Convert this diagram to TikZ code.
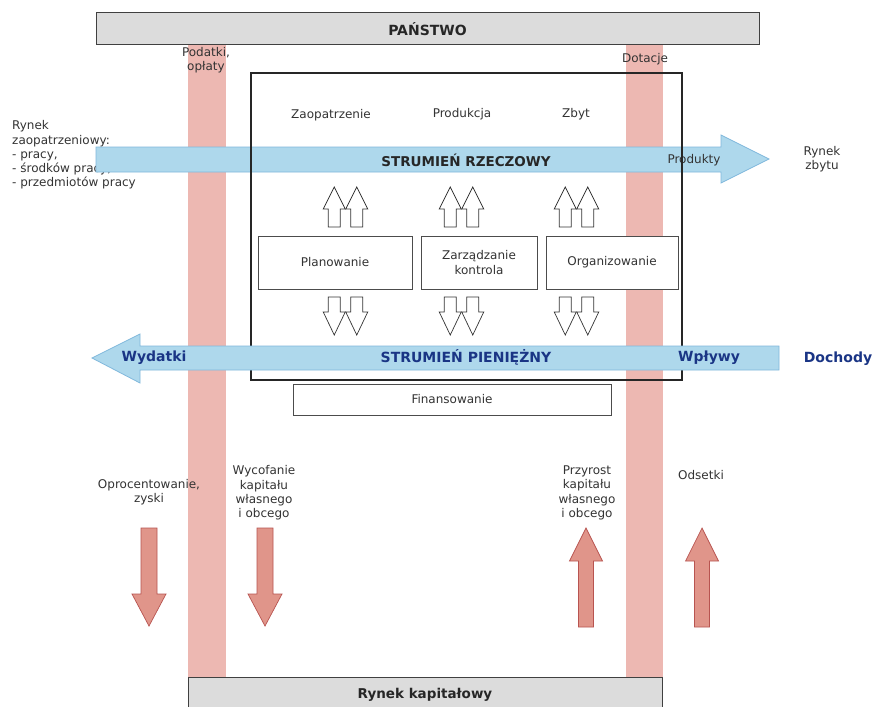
\documentclass[tikz,border=0pt]{standalone}
\usepackage{fontspec}
\setmainfont{DejaVu Sans}
\definecolor{stripred}{HTML}{EDB8B2}
\definecolor{flowblue}{HTML}{AED8EC}
\definecolor{flowedge}{HTML}{80B8DC}
\definecolor{navy}{HTML}{1A3585}
\definecolor{boxgray}{HTML}{DCDCDC}
\definecolor{txt}{HTML}{333333}
\definecolor{redfill}{HTML}{E0958A}
\definecolor{rededge}{HTML}{B85450}
\begin{document}
\begin{tikzpicture}[x=1pt,y=-1pt,
  lbl/.style={text=txt, font=\fontsize{12}{14.3}\selectfont, align=center, inner sep=0},
  title/.style={font=\bfseries\fontsize{14}{16}\selectfont, text=black!85, inner sep=0},
  navylbl/.style={font=\bfseries\fontsize{14}{16}\selectfont, text=navy, inner sep=0},
  panel/.style={draw=black!70, line width=0.8pt, fill=white, inner sep=0},
  govbox/.style={draw=black!75, fill=boxgray, line width=0.9pt, inner sep=0},
  flow/.style={fill=flowblue, draw=flowedge, line width=0.8pt},
  hollow/.style={draw=black!80, fill=white, line width=0.7pt},
  capflow/.style={fill=redfill, draw=rededge, line width=0.7pt},
  hollowup/.pic={\draw[hollow] (-6,40) -- (-6,22) -- (-11,22) -- (0,0) -- (11,22) -- (6,22) -- (6,40) -- cycle;},
  hollowdown/.pic={\draw[hollow] (-6,0) -- (-6,15) -- (-11,15) -- (0,38) -- (11,15) -- (6,15) -- (6,0) -- cycle;},
  capdown/.pic={\draw[capflow] (-8,0) -- (-8,66) -- (-17,66) -- (0,98) -- (17,66) -- (8,66) -- (8,0) -- cycle;},
  capup/.pic={\draw[capflow] (-7.5,99) -- (-7.5,33) -- (-16.5,33) -- (0,0) -- (16.5,33) -- (7.5,33) -- (7.5,99) -- cycle;}
]
\useasboundingbox (0,0) rectangle (874,706);
\fill[white] (0,0) rectangle (874,706);

% money streams to and from the state
\fill[stripred] (188,44) rectangle (226,677);
\fill[stripred] (626,44) rectangle (663,677);

% state and capital market
\node[govbox, minimum width=663pt, minimum height=32pt] (state) at (427.5,28) {};
\node[title] (statetxt) at (427.5,29) {PAŃSTWO};
\node[govbox, minimum width=474pt, minimum height=40pt] (capmarket) at (425,697) {};
\node[title, font=\bfseries\fontsize{13.5}{16}\selectfont] (capmarkettxt) at (425,695) {Rynek kapitałowy};

% side labels
\node[lbl] (taxes) at (206,60) {Podatki,\\opłaty};
\node[lbl] (subsidy) at (645,59.5) {Dotacje};
\node[lbl, align=left, anchor=west] (supply) at (12,155) {Rynek\\zaopatrzeniowy:\\- pracy,\\- środków pracy,\\- przedmiotów pracy};
\node[lbl] (sales) at (822,159) {Rynek\\zbytu};
\node[lbl] (zaop) at (331,115) {Zaopatrzenie};
\node[lbl] (prod) at (462,114) {Produkcja};
\node[lbl] (zbyt) at (576,114) {Zbyt};

% material stream
\draw[flow] (96,147) -- (721,147) -- (721,135) -- (769,159) -- (721,183) -- (721,172) -- (96,172) -- cycle;
\node[title, font=\bfseries\fontsize{13.5}{16}\selectfont] (material) at (466,160) {STRUMIEŃ RZECZOWY};
\node[lbl] (products) at (694,160) {Produkty};

% the enterprise
\node[draw=black!85, line width=1.3pt, minimum width=431pt, minimum height=307pt, inner sep=0] (firm) at (466.5,226.5) {};
\node[panel, minimum width=154pt, minimum height=53pt] (plan) at (335,262.5) {};
\node[lbl] at (plan) {Planowanie};
\node[panel, minimum width=116pt, minimum height=53pt] (ctrl) at (479,262.5) {};
\node[lbl] at (ctrl) {Zarządzanie\\kontrola};
\node[panel, minimum width=132pt, minimum height=53pt] (org) at (612,262.5) {};
\node[lbl] at (org) {Organizowanie};
\node[panel, minimum width=318pt, minimum height=31pt] (fin) at (452,399.5) {};
\node[lbl] at (fin) {Finansowanie};

% management acts on both streams
\foreach \c in {345.5,461.5,576.5} {
  \pic at (\c-11.25,187) {hollowup};
  \pic at (\c+11.25,187) {hollowup};
  \pic at (\c-11.25,297) {hollowdown};
  \pic at (\c+11.25,297) {hollowdown};
}

% money stream
\draw[flow] (779,346) -- (140,346) -- (140,334) -- (92,358) -- (140,383) -- (140,370) -- (779,370) -- cycle;
\node[navylbl] (out) at (154,358) {Wydatki};
\node[navylbl] (money) at (466,357) {STRUMIEŃ PIENIĘŻNY};
\node[navylbl] (in) at (709,358) {Wpływy};
\node[navylbl] (income) at (838,359) {Dochody};

% capital flows
\node[lbl] (interest) at (149,492) {Oprocentowanie,\\zyski};
\node[lbl] (withdraw) at (264,493) {Wycofanie\\kapitału\\własnego\\i obcego};
\node[lbl] (growth) at (587,493) {Przyrost\\kapitału\\własnego\\i obcego};
\node[lbl] (odsetki) at (701,475) {Odsetki};
\pic at (149,528) {capdown};
\pic at (265,528) {capdown};
\pic at (586,528) {capup};
\pic at (702,528) {capup};
\end{tikzpicture}
\end{document}
